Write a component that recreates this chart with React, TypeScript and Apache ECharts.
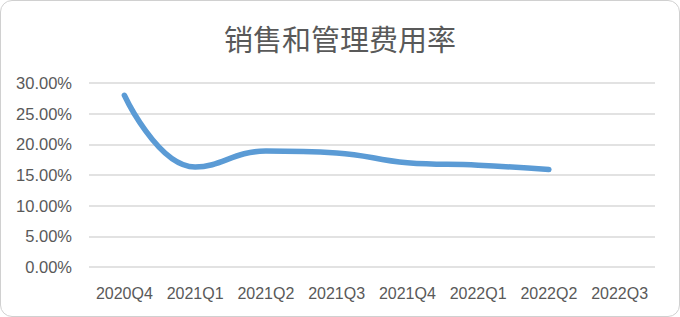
import React, { useEffect, useRef } from "react";
import * as echarts from "echarts";

const title = "销售和管理费用率";
const quarters = ["2020Q4", "2021Q1", "2021Q2", "2021Q3", "2021Q4", "2022Q1", "2022Q2", "2022Q3"];
// ratio in percent; 2022Q3 not yet reported
const expenseRatio: (number | null)[] = [28.0, 16.3, 18.9, 18.6, 17.0, 16.6, 15.9, null];
const yTicks = { min: 0, max: 30, interval: 5 };

export default function App() {
  const ref = useRef<HTMLDivElement>(null);

  useEffect(() => {
    if (!ref.current) return;
    const chart = echarts.init(ref.current, undefined, { renderer: "svg" });
    chart.setOption({
      animation: false,
      title: {
        text: title,
        left: "center",
        top: 17,
        textStyle: {
          fontFamily: "'Noto Sans CJK SC', sans-serif",
          fontSize: 29,
          fontWeight: "normal",
          color: "#595959",
        },
      },
      grid: { left: 88, right: 24, top: 82, bottom: 49, containLabel: false },
      xAxis: {
        type: "category",
        data: quarters,
        boundaryGap: true,
        axisLine: { show: false },
        axisTick: { show: false },
        axisLabel: {
          interval: 0,
          margin: 18,
          fontFamily: "'Liberation Sans', Arial, sans-serif",
          fontSize: 16,
          color: "#595959",
        },
      },
      yAxis: {
        type: "value",
        min: yTicks.min,
        max: yTicks.max,
        interval: yTicks.interval,
        axisLine: { show: false },
        axisTick: { show: false },
        splitLine: { lineStyle: { color: "#d9d9d9", width: 1.5 } },
        axisLabel: {
          margin: 17,
          fontFamily: "'Liberation Sans', Arial, sans-serif",
          fontSize: 16.5,
          color: "#595959",
          formatter: (v: number) => v.toFixed(2) + "%",
        },
      },
      series: [
        {
          type: "line",
          data: expenseRatio,
          smooth: 0.45,
          showSymbol: false,
          lineStyle: { color: "#5b9bd5", width: 5.5, cap: "round" },
          itemStyle: { color: "#5b9bd5" },
        },
      ],
    });
    return () => chart.dispose();
  }, []);

  return (
    <div
      style={{
        position: "fixed",
        left: 0,
        top: 0,
        width: 680,
        height: 317,
        boxSizing: "border-box",
        border: "1px solid #d0d0d0",
        borderRadius: 12,
        background: "#fff",
        overflow: "hidden",
      }}
    >
      <div ref={ref} style={{ width: 678, height: 315 }} />
    </div>
  );
}
